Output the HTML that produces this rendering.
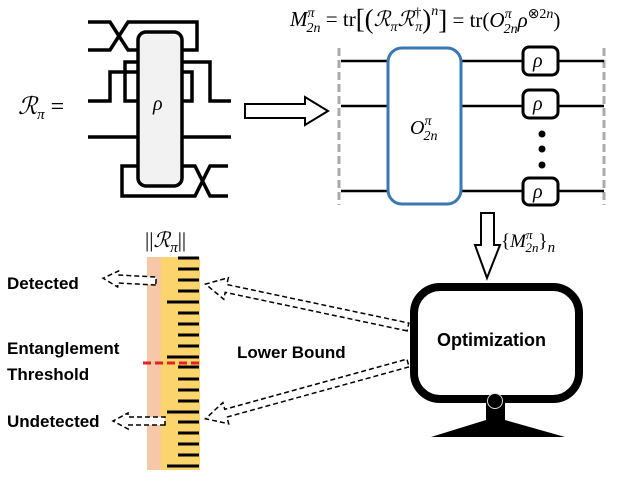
<!DOCTYPE html>
<html><head><meta charset="utf-8"><style>
body{margin:0;background:#fff}
svg text{font-family:"Liberation Serif",serif}
svg text.b{font-family:"Liberation Sans",sans-serif;font-weight:bold}
</style></head><body>
<svg width="641" height="481" viewBox="0 0 641 481" xmlns="http://www.w3.org/2000/svg">
<g fill="none" stroke="#000" stroke-width="3.5">
<path d="M88 22 H110 L128 50 H138"/>
<path d="M88 50 H110 L128 22 H197 V50 H182"/>
<path d="M88 101 H110 V72 H192 V101 H182"/>
<path d="M138 101 H125 V62 H210 V101 H231"/>
<path d="M88 137 H231"/>
<path d="M138 166 H122 V196 H195 L210 166 H228"/>
<path d="M182 166 H195 L210 196 H228"/>
</g>
<rect x="138" y="32" width="44" height="154" rx="8" fill="#f2f2f2" stroke="#000" stroke-width="3.5"/>
<text x="153" y="110" font-size="20" font-style="italic">ρ</text>
<text x="18" y="114" font-size="24" font-style="italic">ℛ<tspan font-size="15" dy="5">π</tspan><tspan dy="-5" font-style="normal"> =</tspan></text>
<polygon points="245,104 305,104 305,97 328,111 305,125 305,118 245,118" fill="#fff" stroke="#000" stroke-width="2"/>
<text x="290" y="26" font-size="21"><tspan font-style="italic">M</tspan><tspan font-size="14" dy="-9" font-style="italic">π</tspan><tspan font-size="14" dx="-8" dy="15" font-style="italic">2n</tspan><tspan dy="-6"> = tr</tspan><tspan font-size="27" dy="2">[(</tspan><tspan font-style="italic" dy="-2">ℛ</tspan><tspan font-size="14" dy="5" font-style="italic">π</tspan><tspan dy="-5" font-style="italic">ℛ</tspan><tspan font-size="14" dy="-9">†</tspan><tspan font-size="14" dx="-6" dy="14" font-style="italic">π</tspan><tspan font-size="27" dy="-3">)</tspan><tspan font-size="14" dy="-13" font-style="italic">n</tspan><tspan font-size="27" dy="14">]</tspan><tspan dy="-2"> = tr(</tspan><tspan font-style="italic">O</tspan><tspan font-size="14" dy="-9" font-style="italic">π</tspan><tspan font-size="14" dx="-8" dy="15" font-style="italic">2n</tspan><tspan font-style="italic" dy="-6">ρ</tspan><tspan font-size="14" dy="-9">⊗2</tspan><tspan font-size="14" font-style="italic">n</tspan><tspan dy="9">)</tspan></text>
<g stroke="#aaa" stroke-width="3" stroke-dasharray="8,4"><path d="M339 48 V205 M604 48 V205"/></g>
<g stroke="#000" stroke-width="2.5"><path d="M341 61 H604 M341 106 H604 M341 191 H604"/></g>
<rect x="388" y="48" width="73" height="156" rx="14" fill="#fff" stroke="#3a78b5" stroke-width="3"/>
<text x="410" y="134" font-size="20" font-style="italic">O<tspan font-size="14" dy="-9">π</tspan><tspan font-size="14" dx="-8" dy="15">2n</tspan></text>
<g fill="#fff" stroke="#000" stroke-width="3"><rect x="523" y="47" width="35" height="28" rx="6"/><rect x="523" y="90" width="35" height="28" rx="6"/><rect x="523" y="178" width="35" height="27" rx="6"/></g>
<g font-size="20" font-style="italic"><text x="533" y="67">ρ</text><text x="533" y="110">ρ</text><text x="533" y="198">ρ</text></g>
<g fill="#000"><circle cx="542" cy="134" r="3.5"/><circle cx="542" cy="149" r="3.5"/><circle cx="542" cy="165" r="3.5"/></g>
<polygon points="481,213 494,213 494,245 500,245 487,278 475,245 481,245" fill="#fff" stroke="#000" stroke-width="2"/>
<text x="501" y="247" font-size="19">{<tspan font-style="italic">M</tspan><tspan font-size="13" dy="-8" font-style="italic">π</tspan><tspan font-size="13" dx="-7" dy="13" font-style="italic">2n</tspan><tspan dy="-5">}</tspan><tspan font-size="15" dy="5" font-style="italic">n</tspan></text>
<rect x="414" y="287" width="165" height="112" rx="26" fill="#fff" stroke="#000" stroke-width="8"/>
<rect x="486" y="400" width="19" height="25" fill="#000"/>
<polygon points="431,437 565,437 505,420 486,420" fill="#000"/>
<circle cx="495" cy="401" r="7.5" fill="#000" stroke="#ddd" stroke-width="1"/>
<text x="437" y="346" font-size="18" class="b">Optimization</text>
<rect x="147" y="257" width="14" height="213" fill="#f6c8a8"/>
<rect x="161" y="257" width="39" height="213" fill="#fbd46c"/>
<g stroke="#000" stroke-width="3">
<path d="M178 258H199M178 269H199M178 280H199M178 291H199M167 302H199M178 313H199M178 324H199M178 335H199M178 346H199M167 357H199M178 367H199M178 379H199M178 390H199M178 401H199M167 412H199M178 422H199M178 433H199M178 444H199M178 455H199M167 466H199"/>
</g>
<path d="M143 363H200" stroke="#e82020" stroke-width="3" stroke-dasharray="8,4"/>
<text x="145" y="247" font-size="21">||<tspan font-style="italic">ℛ</tspan><tspan font-size="15" dy="5" font-style="italic">π</tspan><tspan dy="-5">||</tspan></text>
<text x="7" y="289" font-size="17" class="b">Detected</text>
<text x="7" y="354" font-size="17" class="b">Entanglement</text>
<text x="7" y="380" font-size="17" class="b">Threshold</text>
<text x="7" y="427" font-size="17" class="b">Undetected</text>
<text x="237" y="358" font-size="17" class="b">Lower Bound</text>
<g fill="#fff" stroke="#000" stroke-width="1.5" stroke-dasharray="5,3">
<polygon transform="translate(408,327) rotate(191.96)" points="0,-4 186,-4 186,-11 207,0 186,11 186,4 0,4"/>
<polygon transform="translate(408,363) rotate(164.6)" points="0,-4 189,-4 189,-11 210,0 189,11 189,4 0,4"/>
<polygon transform="translate(156,281) rotate(183)" points="0,-4 38,-4 38,-8 53,0 38,8 38,4 0,4"/>
<polygon transform="translate(165,421) rotate(180)" points="0,-4 37,-4 37,-8 52,0 37,8 37,4 0,4"/>
</g>
</svg>
</body></html>
